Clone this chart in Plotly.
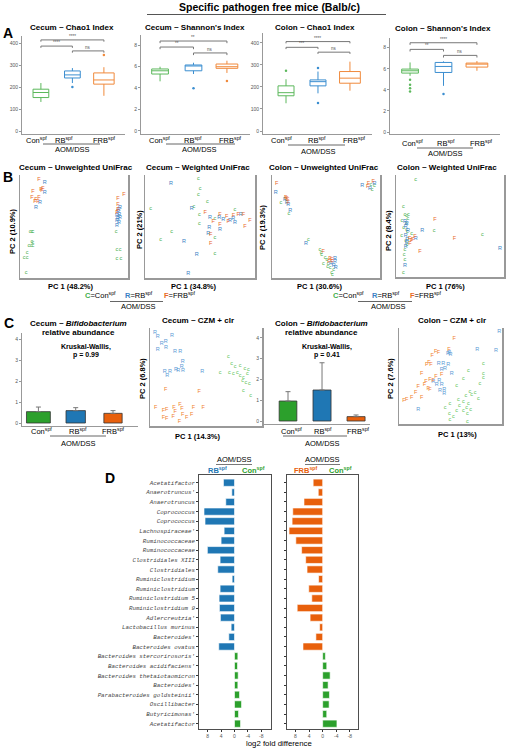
import plotly.graph_objects as go

W, H = 507, 750
SANS = "Liberation Sans, Arial, sans-serif"
MONO = "Liberation Mono, Courier New, monospace"

# ======================= DATA =======================
groups = ["Con", "RB", "FRB"]

# ---- Panel A : alpha diversity boxes (Con, RB, FRB) ----
a_titles = ["Cecum ~ Chao1 Index", "Cecum ~ Shannon's Index",
            "Colon ~ Chao1 Index", "Colon ~ Shannon's Index"]
a_q1 = [[152, 241, 213], [5.30, 5.60, 5.83], [160, 205, 217], [5.59, 5.65, 6.16]]
a_med = [[175, 255, 232], [5.60, 6.05, 5.98], [174, 224, 240], [5.81, 6.22, 6.44]]
a_q3 = [[190, 273, 264], [5.77, 6.14, 6.23], [205, 232, 270], [5.97, 6.60, 6.54]]
a_lo = [[132, 218, 160], [4.62, 5.30, 5.40], [126, 171, 183], [5.33, 4.38, 5.81]]
a_hi = [[218, 286, 290], [5.98, 6.35, 6.54], [235, 270, 315], [6.60, 6.70, 6.73]]
a_out_grp = [[1, 2], [1, 2], [0, 1, 1], [0, 0, 0, 0, 1]]
a_out_val = [[200, 345], [3.97, 4.65], [274, 286, 127], [4.95, 4.48, 4.16, 3.84, 3.60]]
a_yticks = [[0, 100, 200, 300, 400], [0, 2, 4, 6, 8], [0, 100, 200, 300, 400], [0, 2, 4, 6, 8]]
a_sig_pairs = [(0, 2), (0, 1), (1, 2)]
a_sig_y = [[414, 386, 364], [8.37, 7.81, 7.26], [406, 380, 358], [8.47, 7.84, 7.27]]
a_sig_lab = [["****", "****", "ns"], ["**", "**", "ns"],
             ["****", "***", "ns"], ["****", "**", "ns"]]

# ---- Panel B : PCoA (scores scaled 0-100 across the panel) ----
b_titles = ["Cecum ~ Unweighted UniFrac", "Cecum ~ Weighted UniFrac",
            "Colon ~ Unweighted UniFrac", "Colon ~ Weighted UniFrac"]
b_pc1 = ["PC 1 (48.2%)", "PC 1 (34.8%)", "PC 1 (30.6%)", "PC 1 (76%)"]
b_pc2 = ["PC 2 (10.9%)", "PC 2 (21%)", "PC 2 (19.3%)", "PC 2 (8.4%)"]

b1_con_x = [9.3, 11, 12, 11, 12, 8.3, 10.2, 12, 6.5, 3.7, 6.5, 5.6, 88.9, 89.8, 92.6, 89.8, 93.5]
b1_con_y = [44.7, 44.7, 44.7, 35, 34, 31, 31, 31, 25, 20, 20, 5, 44.7, 28, 28, 18.5, 18.5]
b1_rb_x = [23, 23, 18.5, 14.8, 92.6, 90.7, 89.8, 92.6, 90.7, 89.8, 91.7, 89.8, 91.5, 92]
b1_rb_y = [93, 82.5, 73, 68, 68, 64, 61, 59, 58, 56, 54, 50.5, 66, 62]
b1_frb_x = [17.6, 19.4, 21.3, 20.4, 12, 11, 14.8, 13.9, 16.7, 17.6, 96.3, 90.7, 90.7, 90.7, 89.8]
b1_frb_y = [96, 86, 87, 85, 83.5, 78, 76, 74, 74, 78, 80.6, 76.7, 70.9, 66, 63]

b2_con_x = [48.5, 50, 48.5, 56.6, 44.5, 5.2, 49.4, 63.6, 49.4, 24.3, 14.3, 63.6, 63.6, 81.8]
b2_con_y = [96.8, 87.1, 80.6, 74.1, 69.2, 67.7, 61.2, 57.6, 52.4, 45, 37.6, 39.1, 23.3, 66]
b2_rb_x = [23.6, 42.4, 59, 67.5, 71.2, 77.3, 80.3, 81.8, 87, 68.2, 58.5, 57.6, 35.5, 47, 39.4]
b2_rb_y = [92, 67.7, 58.5, 58.5, 56.3, 55.3, 57.6, 53.7, 62, 46.6, 48.9, 42.7, 35.3, 23, 4.5]
b2_frb_x = [54.8, 62, 68.2, 74.3, 75.7, 80.3, 84.8, 89.4, 95.4, 90.9, 59.7, 59.7, 68.2]
b2_frb_y = [63.8, 54.7, 51.5, 59.5, 54.7, 60.2, 62, 61.2, 55.3, 49.8, 41.7, 33.7, 61.2]

b3_con_x = [8.3, 15.7, 91.5, 94.7, 92.6, 33.6, 44.4, 46, 49.1, 50.7, 53.7, 57.1, 47.5, 51.6, 55.3, 45.5, 52, 56]
b3_con_y = [73.1, 62.8, 90.5, 89.6, 85.5, 36.9, 27.9, 22.3, 20.1, 17.5, 10.4, 8.4, 13.6, 11, 5.1, 25, 14, 3]
b3_rb_x = [3.4, 12, 13.6, 15.1, 17, 83.6, 90.7, 95, 31.5, 54.6, 57.1, 58.3, 59, 58.3]
b3_rb_y = [82.8, 76.4, 73.1, 70.9, 65.3, 89.3, 87.1, 91.5, 33.7, 13.6, 12.3, 15.8, 10.4, 19.1]
b3_frb_x = [4.3, 12.7, 13.6, 14.5, 15.1, 89.2, 93.8, 88.6, 47.5, 53.7, 55.3, 55.8, 52.8]
b3_frb_y = [91.3, 78, 77, 76, 73.1, 92, 93.5, 88.5, 25.5, 19.1, 17.5, 15.5, 15.8]

b4_con_x = [18.2, 6.8, 8.3, 9.9, 11.4, 5.5, 9.5, 11, 7, 9.9, 10.5, 5.3, 10, 8.3, 7.5, 8.3, 6.8, 14.5, 35.2, 79.9, 9]
b4_con_y = [95.8, 69.2, 61.2, 60.2, 61.2, 55, 52, 57, 48, 46, 44, 40.8, 32, 27.2, 22.3, 17.5, 4.5, 42.7, 45.9, 41.8, 36]
b4_rb_x = [8.3, 9.9, 9, 9, 10.5, 9.9, 9, 8.3, 24.4, 18.2, 96.3, 11]
b4_rb_y = [54.7, 52, 49.8, 40.1, 36.9, 33.7, 29.8, 11, 45.9, 37.6, 27.9, 45]
b4_frb_x = [12.7, 15.4, 17.6, 14.3, 36.1, 54, 22.2, 13]
b4_frb_y = [37.6, 36.8, 39.5, 35.3, 56.3, 37.6, 24.6, 33]

# ---- Panel C : Bifidobacterium relative abundance (mean, upper SE) ----
c_bifido_titles = ["Cecum ~ <i>Bifidobacterium</i>", "Colon ~ <i>Bifidobacterium</i>"]
c_kw_p = ["p = 0.99", "p = 0.41"]
c_cecum_mean = [0.54, 0.59, 0.46]
c_cecum_err = [0.22, 0.14, 0.13]
c_colon_mean = [0.96, 1.49, 0.21]
c_colon_err = [0.45, 1.31, 0.08]
c_yticks = [0, 1, 2, 3, 4]

# ---- Panel C : CZM + clr PCA (scores scaled 0-100 across the panel) ----
c_czm_titles = ["Cecum ~ CZM + clr", "Colon ~ CZM + clr"]
c_czm_pc1 = ["PC 1 (14.3%)", "PC 1 (13%)"]
c_czm_pc2 = ["PC 2 (6.8%)", "PC 2 (7.6%)"]
c2_rb_x = [4.5, 6.8, 10.4, 14, 19.6, 14.3, 6.8, 22.3, 27.1, 29.2, 28.3, 29.5, 25.3, 23.2, 17.9, 13.1, 15.4, 46.7]
c2_rb_y = [95.2, 91.1, 84.4, 86, 92.1, 80.3, 78.3, 75.8, 75.8, 65.6, 60.5, 56.4, 56.4, 57.1, 55.4, 55.4, 51, 55.4]
c2_con_x = [69.9, 72.9, 75.9, 80.4, 84.8, 78, 74.4, 80.4, 83.3, 86.9, 82.7, 85.7, 88.7, 83.3, 89.9, 62.5, 70.8, 87.8]
c2_con_y = [70.7, 63.3, 60.5, 61.2, 58.9, 54.4, 53.1, 51, 49, 53.1, 46.2, 44.2, 43.6, 36, 30.6, 54.4, 54.4, 57.8]
c2_frb_x = [14, 44, 5.1, 11.9, 14.9, 21.4, 26.8, 28.6, 22.6, 29.2, 20.8, 11.9, 14.9, 26.2, 37.2, 38.7, 47.6, 32.7]
c2_frb_y = [37.4, 35, 19.1, 15.6, 17, 19.1, 21.4, 18, 14.6, 11.2, 9.5, 8.8, 7.8, 4.4, 11.2, 19.1, 19.1, 8.8]

c4_rb_x = [97.4, 76, 94.2, 48.8, 50, 47.5, 38.5, 43, 47.9, 44.7, 41.5, 51.2, 39.1, 36.6, 41.5, 44, 39.8, 44, 33.3, 18.7]
c4_rb_y = [96.1, 77.8, 76.4, 74.3, 72.5, 73.5, 62.5, 63.2, 61.5, 58, 56.3, 52.1, 45.1, 40.6, 40.6, 35.4, 34.7, 31.3, 44.1, 15.3]
c4_frb_x = [53.7, 48.5, 38.2, 35.6, 32.3, 29.1, 31.1, 26.9, 22, 30.1, 33.3, 26.2, 24.6, 18.7, 16.2, 28.4, 30.1, 22, 12.3, 7.5, 4.9, 41.5, 35.9]
c4_frb_y = [89.3, 77.8, 74.3, 75.3, 70.8, 63.9, 61.5, 61.5, 52.8, 46.6, 45.1, 44.1, 40.6, 38.9, 32.6, 37.2, 35.4, 27.4, 27.4, 25, 24, 51, 49.3]
c4_con_x = [81.8, 67.3, 81.8, 81.8, 78.6, 62.4, 56, 68.9, 70.6, 65, 73.8, 77, 49.5, 44.7, 58.6, 62.4, 67.3, 65.7, 69.6, 62.4, 66.3, 66.3, 49.5, 52.7, 48.8, 56, 57.6]
c4_con_y = [63.2, 55.5, 52.8, 48.6, 42.4, 47.6, 39.6, 33.6, 30.2, 29.2, 32.6, 26.7, 21.5, 17.4, 18.8, 23.3, 21.5, 17.4, 15.3, 13.9, 10.4, 2.4, 4.2, 7.6, 10.4, 13.9, 25.7]

# ---- Panel D : differential taxa, log2 fold difference ----
d_taxa = ["Acetatifactor", "Anaerotruncus'", "Anaerotruncus", "Coprococcus", "Coprococcus",
          "Lachnospiraceae'", "Ruminococcaceae", "Ruminococcaceae", "Clostridiales XIII",
          "Clostridiales", "Ruminiclostridium", "Ruminiclostridium", "Ruminiclostridium 5",
          "Ruminiclostridium 9", "Adlercreutzia'", "Lactobacillus murinus", "Bacteroides'",
          "Bacteroides ovatus", "Bacteroides stercorirosoris'", "Bacteroides acidifaciens'",
          "Bacteroides thetaiotaomicron", "Bacteroides'", "Parabacteroides goldsteinii'",
          "Oscillibacter", "Butyricimonas'", "Acetatifactor"]
d_rb_vs_con = [3.3, 0.8, 2.6, 9.1, 8.8, 3.1, 4.0, 8.1, 4.3, 5.0, 0.7, 4.3, 4.6, 4.5, 4.2, 1.0, 1.7, 4.7,
               -1.0, -0.9, -1.1, -1.0, -1.5, -2.1, -1.2, -1.8]
d_frb_vs_con = [2.8, 1.3, 5.5, 8.8, 9.0, 9.9, 7.9, 6.2, 5.0, 4.6, 1.2, 4.1, 3.2, 7.5, 3.7, 0.9, 2.0, 5.8,
                -0.8, -1.2, -2.2, -1.6, -2.0, -1.9, -1.2, -4.2]
d_xticks = [8, 4, 0, -4, -8]

# ======================= STYLE =======================
col_box = ["#5cb85c", "#3b8ed0", "#f08a3c"]
col_pt = ["#3fae4a", "#3b7fc4", "#e8691f"]
col_bar = ["#2ca02c", "#1f77b4", "#e8600c"]
col_czm = ["#5cbf55", "#5b9bd5", "#f07f2e"]
letters = ["c", "R", "F"]

fig = go.Figure()
layout = dict(width=W, height=H, margin=dict(l=0, r=0, t=0, b=0),
              paper_bgcolor="white", plot_bgcolor="white", showlegend=False,
              boxmode="overlay", barmode="overlay", font=dict(family=SANS, color="black"))
annotations = []
shapes = []
counter = [0]


def new_axes(xpx, ypx, xrange, yrange, xopts=None, yopts=None):
    counter[0] += 1
    n = counter[0]
    sfx = "" if n == 1 else str(n)
    base = dict(showgrid=False, zeroline=False, showticklabels=False, ticks="",
                showline=False, fixedrange=True)
    xd = dict(base, domain=[xpx[0] / W, xpx[1] / W], range=xrange, anchor="y" + sfx)
    yd = dict(base, domain=[1 - ypx[1] / H, 1 - ypx[0] / H], range=yrange, anchor="x" + sfx)
    if xopts:
        xd.update(xopts)
    if yopts:
        yd.update(yopts)
    layout["xaxis" + sfx] = xd
    layout["yaxis" + sfx] = yd
    return "x" + sfx, "y" + sfx


def txt(x, y, s, size, color="black", bold=False, xanchor="center", angle=0, family=SANS):
    if bold:
        s = "<b>" + s + "</b>"
    annotations.append(dict(x=x / W, y=1 - y / H, xref="paper", yref="paper", text=s,
                            showarrow=False, font=dict(size=size, color=color, family=family),
                            xanchor=xanchor, yanchor="middle", textangle=angle))


def hline(x0, x1, y, color="#666", width=1):
    shapes.append(dict(type="line", xref="paper", yref="paper", x0=x0 / W, x1=x1 / W,
                       y0=1 - y / H, y1=1 - y / H, line=dict(color=color, width=width)))


def sup(name):
    return name + "<sup>spf</sup>"


# ---- global title ----
txt(269, 7, "Specific pathogen free mice (Balb/c)", 10.5, bold=True)
hline(147, 386, 14.5, "#555", 1)
for lab, (x, y) in zip("ABCD", [(8, 33), (8, 177), (9, 323), (110, 478)]):
    txt(x, y, lab, 14, bold=True)

# ======================= PANEL A =======================
A_box = [((22, 125), (36, 134)), ((141, 250), (35, 134)), ((263, 372), (33, 134)), ((390, 500), (38, 134))]
A_xr = [[-0.6, 2.67], [-0.57, 2.69], [-0.72, 2.69], [-0.6, 2.69]]
A_yr = [[-13.6, 431.8], [-0.28, 8.93], [-13.6, 445], [-0.19, 8.92]]
A_title_pos = [(72, 27), (195, 27), (315, 27), (443, 29)]
A_cat_pos = [([36, 64, 104], 140), ([159, 193, 230], 140), ([281, 317, 354], 140), ([412, 446, 481], 143)]
A_aom = [(43, 100, 144, 72, 149.5), (166, 235, 144, 199, 150), (288, 345, 145, 318, 151), (417, 473, 148, 445, 153.5)]
box_w = [0.5, 0.5, 0.65]
tick_len = [8, 0.2, 8, 0.2]

for i in range(4):
    xr, yr = new_axes(A_box[i][0], A_box[i][1], A_xr[i], A_yr[i],
                      xopts=dict(showline=True, linecolor="#999", linewidth=1),
                      yopts=dict(showline=True, linecolor="#999", linewidth=1, showticklabels=True,
                                 tickvals=a_yticks[i], tickfont=dict(size=5, color="#555"),
                                 ticks="outside", ticklen=2, tickcolor="#999"))
    for g in range(3):
        fig.add_trace(go.Box(x=[g], q1=[a_q1[i][g]], median=[a_med[i][g]], q3=[a_q3[i][g]],
                             lowerfence=[a_lo[i][g]], upperfence=[a_hi[i][g]],
                             width=box_w[g], whiskerwidth=0, boxpoints=False,
                             line=dict(color=col_box[g], width=1), fillcolor="white",
                             xaxis=xr, yaxis=yr, hoverinfo="skip"))
    fig.add_trace(go.Scatter(x=a_out_grp[i], y=a_out_val[i], mode="markers",
                             marker=dict(size=2.5, color=[col_box[g] for g in a_out_grp[i]]),
                             xaxis=xr, yaxis=yr, hoverinfo="skip", cliponaxis=False))
    for pair, yv, lab in zip(a_sig_pairs, a_sig_y[i], a_sig_lab[i]):
        shapes.append(dict(type="line", xref=xr, yref=yr, x0=pair[0], x1=pair[1], y0=yv, y1=yv,
                           line=dict(color="#777", width=1)))
        for xx in pair:
            shapes.append(dict(type="line", xref=xr, yref=yr, x0=xx, x1=xx, y0=yv, y1=yv - tick_len[i],
                               line=dict(color="#777", width=1)))
        annotations.append(dict(x=(pair[0] + pair[1]) / 2, y=yv, xref=xr, yref=yr, text=lab,
                                showarrow=False, font=dict(size=4.5, color="#555"),
                                yanchor="bottom", yshift=-1))
    txt(A_title_pos[i][0], A_title_pos[i][1], a_titles[i], 8, bold=True)
    xs, yc = A_cat_pos[i]
    for g in range(3):
        txt(xs[g], yc, sup(groups[g]), 7.5)
    x0, x1, ly, tx, ty = A_aom[i]
    hline(x0, x1, ly, "#666", 1)
    txt(tx, ty, "AOM/DSS", 7.5)

# ======================= PANEL B =======================
B_box = [((20, 128), (175, 278)), ((145, 255), (175, 278)), ((272, 380), (175, 278)), ((396, 504), (175, 277))]
B_title_pos = [(76, 168), (198, 168), (324, 168), (447, 168)]
B_pc1_pos = [(71, 286), (194, 286), (320, 286), (445, 286)]
B_pc2_pos = [(12, 231), (140, 230), (263, 227), (388, 231)]
b_sets = [
    [(b1_con_x, b1_con_y), (b1_rb_x, b1_rb_y), (b1_frb_x, b1_frb_y)],
    [(b2_con_x, b2_con_y), (b2_rb_x, b2_rb_y), (b2_frb_x, b2_frb_y)],
    [(b3_con_x, b3_con_y), (b3_rb_x, b3_rb_y), (b3_frb_x, b3_frb_y)],
    [(b4_con_x, b4_con_y), (b4_rb_x, b4_rb_y), (b4_frb_x, b4_frb_y)],
]
frame_x = dict(showline=True, linecolor="#999", linewidth=1.5)
frame_y = dict(showline=True, linecolor="#999", linewidth=1.5, mirror=True)

for i in range(4):
    xr, yr = new_axes(B_box[i][0], B_box[i][1], [0, 100], [0, 100], xopts=frame_x, yopts=frame_y)
    for g in range(3):
        xs, ys = b_sets[i][g]
        fig.add_trace(go.Scatter(x=xs, y=ys, mode="text", text=[letters[g]] * len(xs),
                                 textfont=dict(size=5.5, color=col_pt[g], family=SANS),
                                 xaxis=xr, yaxis=yr, hoverinfo="skip", cliponaxis=False))
    txt(B_title_pos[i][0], B_title_pos[i][1], b_titles[i], 8, bold=True)
    txt(B_pc1_pos[i][0], B_pc1_pos[i][1], b_pc1[i], 7.5, bold=True)
    txt(B_pc2_pos[i][0], B_pc2_pos[i][1], b_pc2[i], 7.5, bold=True, angle=-90)


def legend_line(xs, y, ul, aom):
    for g in range(3):
        s = ("<span style='color:%s'><b>%s</b></span>=%s" % (col_pt[g], "CRF"[g], sup(groups[g])))
        txt(xs[g], y, s, 7.5)
    hline(ul[0], ul[1], ul[2], "#666", 1)
    txt(aom[0], aom[1], "AOM/DSS", 7.5)


legend_line([100, 139, 180], 295, (110, 163, 301.5), (138, 306.5))
legend_line([348, 386, 426], 295, (358, 412, 301.5), (388, 306.5))

# ======================= PANEL C =======================
C_bar_box = [((22, 138), (333, 426)), ((263, 370), (333, 424))]
C_bar_xr = [[-0.44, 2.67], [-0.735, 2.41]]
C_bar_yr = [[-0.143, 4.286], [-0.144, 4.23]]
C_bar_w = [[0.64, 0.52, 0.49], [0.52, 0.53, 0.53]]
C_title_x = [78, 321]
C_kw_x = [86, 327]
C_cat = [[41, 77.5, 113], [291, 323, 358]]
C_ul = [(50, 106), (283, 347)]
C_aom_x = [78, 322]
c_means = [c_cecum_mean, c_colon_mean]
c_errs = [c_cecum_err, c_colon_err]

for k in range(2):
    xr, yr = new_axes(C_bar_box[k][0], C_bar_box[k][1], C_bar_xr[k], C_bar_yr[k],
                      xopts=dict(showline=True, linecolor="#999", linewidth=1),
                      yopts=dict(showline=True, linecolor="#999", linewidth=1, showticklabels=True,
                                 tickvals=c_yticks, tickfont=dict(size=5, color="#555"),
                                 ticks="outside", ticklen=2, tickcolor="#999"))
    fig.add_trace(go.Bar(x=[0, 1, 2], y=c_means[k], width=C_bar_w[k],
                         marker=dict(color=col_bar, line=dict(color="#333", width=0.8)),
                         error_y=dict(type="data", array=c_errs[k], arrayminus=[0, 0, 0],
                                      symmetric=False, color="#777", thickness=1, width=2.5),
                         xaxis=xr, yaxis=yr, hoverinfo="skip"))
    txt(C_title_x[k], 323, "<b>" + c_bifido_titles[k] + "</b>", 8)
    txt(C_title_x[k], 333, "relative abundance", 8, bold=True)
    txt(C_kw_x[k], 347, "Kruskal-Wallis,", 7, bold=True)
    txt(C_kw_x[k], 354.5, c_kw_p[k], 7, bold=True)
    for g in range(3):
        txt(C_cat[k][g], 431, sup(groups[g]), 7.5)
    hline(C_ul[k][0], C_ul[k][1], 436, "#666", 1)
    txt(C_aom_x[k], 443, "AOM/DSS", 7.5)

C_sc_box = [((150, 262), (328, 426)), ((399, 502), (328, 424))]
C_sc_title_x = [198, 452]
C_sc_pc1 = [(198, 436), (457, 435)]
C_sc_pc2 = [(142, 379), (390, 379)]
c_sets = [
    [(c2_con_x, c2_con_y), (c2_rb_x, c2_rb_y), (c2_frb_x, c2_frb_y)],
    [(c4_con_x, c4_con_y), (c4_rb_x, c4_rb_y), (c4_frb_x, c4_frb_y)],
]
for k in range(2):
    xr, yr = new_axes(C_sc_box[k][0], C_sc_box[k][1], [0, 100], [0, 100], xopts=frame_x, yopts=frame_y)
    for g in range(3):
        xs, ys = c_sets[k][g]
        fig.add_trace(go.Scatter(x=xs, y=ys, mode="text", text=[letters[g]] * len(xs),
                                 textfont=dict(size=5.5, color=col_czm[g], family=SANS),
                                 xaxis=xr, yaxis=yr, hoverinfo="skip", cliponaxis=False))
    txt(C_sc_title_x[k], 321, c_czm_titles[k], 8, bold=True)
    txt(C_sc_pc1[k][0], C_sc_pc1[k][1], c_czm_pc1[k], 7.5, bold=True)
    txt(C_sc_pc2[k][0], C_sc_pc2[k][1], c_czm_pc2[k], 7.5, bold=True, angle=-90)

# ======================= PANEL D =======================
D_box = [((199, 271), (475, 729)), ((287, 358), (475, 729))]
D_xr = [[10.6, -10.9], [10.5, -10.4]]
D_vals = [d_rb_vs_con, d_frb_vs_con]
D_pos_col = [col_bar[1], col_bar[2]]
D_head = [("RB", 217, 234, (216, 252)), ("FRB", 306, 322, (305, 340))]
D_con_x = [253, 340]
rows = list(range(len(d_taxa)))

for k in range(2):
    yopts = dict(showline=True, mirror=True, linecolor="#222", linewidth=0.8,
                 ticks="outside", ticklen=2, tickcolor="#333", tickvals=rows)
    if k == 0:
        yopts.update(showticklabels=True, ticktext=["<i>%s</i>" % t for t in d_taxa],
                     tickfont=dict(size=5.8, color="#444", family=MONO))
    xr, yr = new_axes(D_box[k][0], D_box[k][1], D_xr[k], [25.55, -0.8],
                      xopts=dict(showline=True, mirror=True, linecolor="#222", linewidth=0.8,
                                 ticks="outside", ticklen=2, tickcolor="#333", showticklabels=True,
                                 tickvals=d_xticks, ticktext=[str(v) for v in d_xticks],
                                 tickfont=dict(size=5, color="#555")),
                      yopts=yopts)
    vals = D_vals[k]
    fig.add_trace(go.Bar(x=vals, y=rows, orientation="h", width=0.75,
                         marker=dict(color=[D_pos_col[k] if v > 0 else col_bar[0] for v in vals],
                                     line=dict(color="white", width=0.6)),
                         xaxis=xr, yaxis=yr, hoverinfo="skip"))
    name, gx, ax, ul = D_head[k]
    txt(ax, 459, "AOM/DSS", 7.5)
    hline(ul[0], ul[1], 464.5, "#555", 0.8)
    txt(gx, 470, sup(name), 7.5, color=D_pos_col[k], bold=True)
    txt(D_con_x[k], 470, sup("Con"), 7.5, color=col_bar[0], bold=True)

txt(279, 743, "log2 fold difference", 7.8)

layout["annotations"] = annotations
layout["shapes"] = shapes
fig.update_layout(**layout)
fig.write_html("out.html", config={"displayModeBar": False, "staticPlot": True},
               post_script="document.body.style.margin='0px';document.body.style.padding='0px';"
                           "document.body.style.overflow='hidden';")
